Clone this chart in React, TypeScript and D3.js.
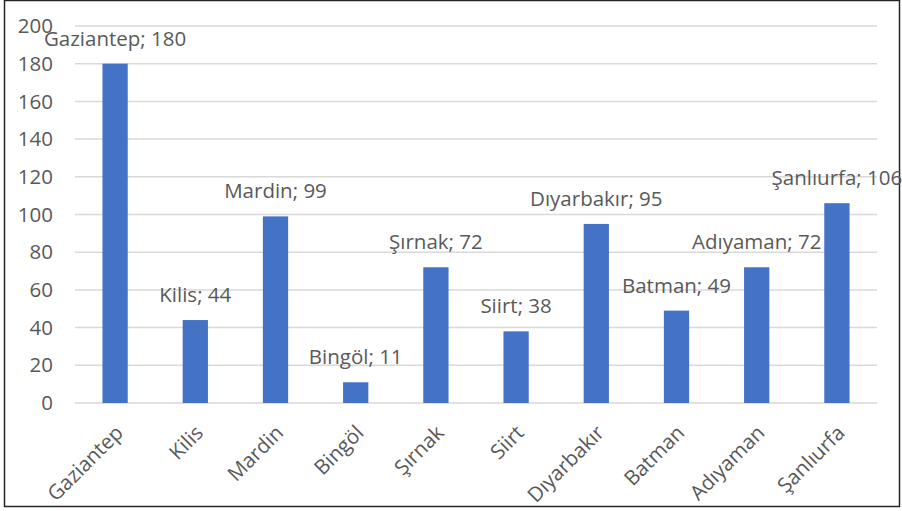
import React, { useEffect, useRef } from 'react';
import * as d3 from 'd3';

// values
const provinces = ['Gaziantep', 'Kilis', 'Mardin', 'Bingöl', 'Şırnak', 'Siirt', 'Dıyarbakır', 'Batman', 'Adıyaman', 'Şanlıurfa'];
const counts = [180, 44, 99, 11, 72, 38, 95, 49, 72, 106];
const yTicks = [0, 20, 40, 60, 80, 100, 120, 140, 160, 180, 200];

const W = 902;
const H = 511;
const margin = { top: 26, right: 25, bottom: 108, left: 75 };
const FONT = '"Open Sans", sans-serif';
const GRAY = '#595959';
const FS = 20.5;

const App = () => {
    const svgRef = useRef<SVGSVGElement>(null);

    useEffect(() => {
        const svg = d3.select(svgRef.current);
        svg.selectAll('*').remove();

        const plotW = W - margin.left - margin.right;
        const plotH = H - margin.top - margin.bottom;

        const x = d3.scaleBand<string>()
            .domain(provinces)
            .range([0, plotW])
            .padding(0);
        const y = d3.scaleLinear()
            .domain([0, 200])
            .range([plotH, 0]);

        // outer frame
        svg.append('rect')
            .attr('x', 4.5).attr('y', 0.5)
            .attr('width', 895).attr('height', 506)
            .attr('fill', '#fff')
            .attr('stroke', '#262626')
            .attr('stroke-width', 1.5);

        const g = svg.append('g')
            .attr('transform', `translate(${margin.left},${margin.top})`);

        // gridlines
        g.selectAll('.grid')
            .data(yTicks)
            .enter()
            .append('line')
            .attr('x1', 0).attr('x2', plotW)
            .attr('y1', d => y(d)).attr('y2', d => y(d))
            .attr('stroke', '#d9d9d9')
            .attr('stroke-width', 1.5);

        // y tick labels
        g.selectAll('.ytick')
            .data(yTicks)
            .enter()
            .append('text')
            .attr('x', -22)
            .attr('y', d => y(d))
            .attr('dy', '0.35em')
            .attr('text-anchor', 'end')
            .attr('font-family', FONT)
            .attr('font-size', FS)
            .attr('fill', GRAY)
            .text(d => d);

        const barW = x.bandwidth() * 0.315;

        // bars
        g.selectAll('.bar')
            .data(counts)
            .enter()
            .append('rect')
            .attr('x', (d, i) => x(provinces[i])! + x.bandwidth() / 2 - barW / 2)
            .attr('y', d => y(d))
            .attr('width', barW)
            .attr('height', d => plotH - y(d))
            .attr('fill', '#4472c4');

        // data labels
        g.selectAll('.label')
            .data(counts)
            .enter()
            .append('text')
            .attr('x', (d, i) => x(provinces[i])! + x.bandwidth() / 2)
            .attr('y', d => y(d) - 18)
            .attr('text-anchor', 'middle')
            .attr('font-family', FONT)
            .attr('font-size', FS)
            .attr('fill', GRAY)
            .text((d, i) => `${provinces[i]}; ${d}`);

        // rotated category labels
        g.selectAll('.xtick')
            .data(provinces)
            .enter()
            .append('text')
            .attr('transform', d => `translate(${x(d)! + x.bandwidth() / 2 - 1},${plotH + 21}) rotate(-45)`)
            .attr('dy', '0.7em')
            .attr('text-anchor', 'end')
            .attr('font-family', FONT)
            .attr('font-size', FS)
            .attr('fill', GRAY)
            .text(d => d);
    }, []);

    return (
        <svg ref={svgRef} width={W} height={H} style={{ position: 'absolute', left: 0, top: 0, display: 'block' }} />
    );
};

export default App;
